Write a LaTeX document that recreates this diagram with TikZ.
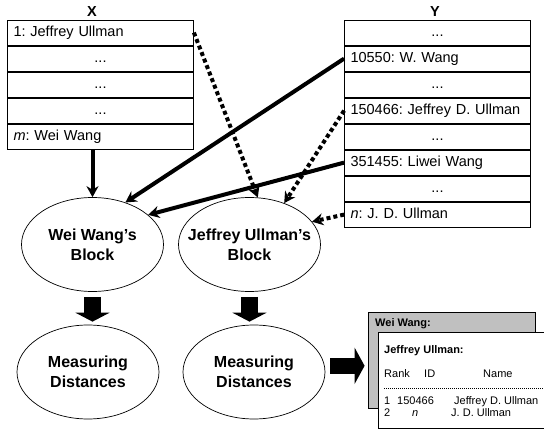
\documentclass[tikz,border=0pt]{standalone}
\usepackage{fontspec}
\setmainfont{Liberation Sans}
\usetikzlibrary{arrows.meta,positioning,shapes.geometric}
\definecolor{backgray}{RGB}{192,192,192}

\begin{document}
\frenchspacing
\begin{tikzpicture}[
    x=1pt, y=-1pt,
    node distance=0pt,
    row/.style={rectangle, draw, line width=0.8pt, minimum width=186pt, minimum height=25.2pt, inner sep=0pt, text height=10.5pt, text depth=3pt, font=\fontsize{14.5}{17}\selectfont},
    namerow/.style={row, text width=174pt, inner xsep=6pt, align=left},
    dotsrow/.style={row},
    colhead/.style={font=\bfseries\fontsize{14.5}{17}\selectfont, inner sep=0pt},
    ell/.style={ellipse, draw, line width=0.7pt, minimum width=142pt, minimum height=94pt, inner sep=0pt},
    elltxt/.style={align=center, inner sep=0pt, font=\bfseries\fontsize{16}{20}\selectfont},
    link/.style={-{Stealth[length=11pt,width=12pt]}, line width=4pt},
    dotlink/.style={link, dash pattern=on 4pt off 3pt},
    bigarrow/.style={-{Triangle[length=9pt,width=34pt]}, line width=17pt},
    resbox/.style={rectangle, draw, line width=0.8pt, minimum width=167pt, minimum height=96pt},
    restitle/.style={anchor=base west, inner sep=0pt, font=\bfseries\fontsize{11}{13}\selectfont},
    restext/.style={anchor=base west, inner sep=0pt, font=\fontsize{11}{13}\selectfont}
]
\useasboundingbox (0,0) rectangle (544,430);

% ============ table X ============
\node[colhead] (xhead) at (92,12) {X};
\node[namerow] (x1) at (100.5,32.6) {1: Jeffrey Ullman};
\node[dotsrow, below=of x1] (x2) {...};
\node[dotsrow, below=of x2] (x3) {...};
\node[dotsrow, below=of x3] (x4) {...};
\node[namerow, below=of x4] (xm) {\textit{m}: Wei Wang};

% ============ table Y ============
\node[colhead] (yhead) at (435,12) {Y};
\node[dotsrow] (y1) at (437.5,32.6) {...};
\node[namerow, below=of y1] (y2) {10550: W. Wang};
\node[dotsrow, below=of y2] (y3) {...};
\node[namerow, below=of y3] (y4) {150466: Jeffrey D. Ullman};
\node[dotsrow, below=of y4] (y5) {...};
\node[namerow, below=of y5] (y6) {351455: Liwei Wang};
\node[dotsrow, below=of y6] (y7) {...};
\node[namerow, below=of y7] (yn) {\textit{n}: J. D. Ullman};

% ============ blocks ============
\node[ell, label={[elltxt]center:{Wei Wang's\\Block}}] (wblk) at (92.5,244.5) {};
\node[ell, label={[elltxt]center:{Jeffrey Ullman's\\Block}}] (jblk) at (249.5,244.5) {};

\node[ell, label={[elltxt]center:{Measuring\\Distances}}] (wmeas) at (88,372) {};
\node[ell, label={[elltxt]center:{Measuring\\Distances}}] (jmeas) at (254,372) {};

\draw[link] (xm.south -| wblk) -- (wblk.north);
\draw[link] (y2.west) -- (wblk.52);
\draw[link] (y6.west) -- (wblk.28);
\draw[dotlink] (x1.east) -- (jblk.80);
\draw[dotlink] (y4.west) -- (jblk.50);
\draw[dotlink] (yn.west) -- (jblk.20);

\draw[bigarrow, shorten <=5pt, shorten >=3pt] (wblk.south) -- (wblk.south |- wmeas.north);
\draw[bigarrow, shorten <=5pt, shorten >=3pt] (jblk.south) -- (jblk.south |- jmeas.north);

% ============ results ============
\node[resbox, fill=backgray] (res-back) at (451.5,360) {};
\node[restitle] (wang-title) at (375,327) {Wei Wang:};
\node[resbox, fill=white, minimum width=180pt] (res-front) at (468,380) {};
\node[restitle] (jeff-title) at (384,354) {Jeffrey Ullman:};
\node[restext] (col-rank) at (384,378) {Rank};
\node[restext] (col-id) at (424,378) {ID};
\node[restext] (col-name) at (483,378) {Name};
\draw[line width=0.4pt, dash pattern=on 1.2pt off 0.8pt] (384,388) -- (544,388);
\node[restext] (r1-rank) at (384,405) {1};
\node[restext] (r1-id) at (397,405) {150466};
\node[restext] (r1-name) at (454,405) {Jeffrey D. Ullman};
\node[restext] (r2-rank) at (384,417) {2};
\node[restext] (r2-id) at (412,417) {\textit{n}};
\node[restext] (r2-name) at (451,417) {J. D. Ullman};

\draw[bigarrow, line width=16pt, -{Triangle[length=10pt,width=36pt]}, shorten <=5.5pt, shorten >=3pt] (jmeas.5) -- (jmeas.5 -| res-back.west);

\end{tikzpicture}
\end{document}
